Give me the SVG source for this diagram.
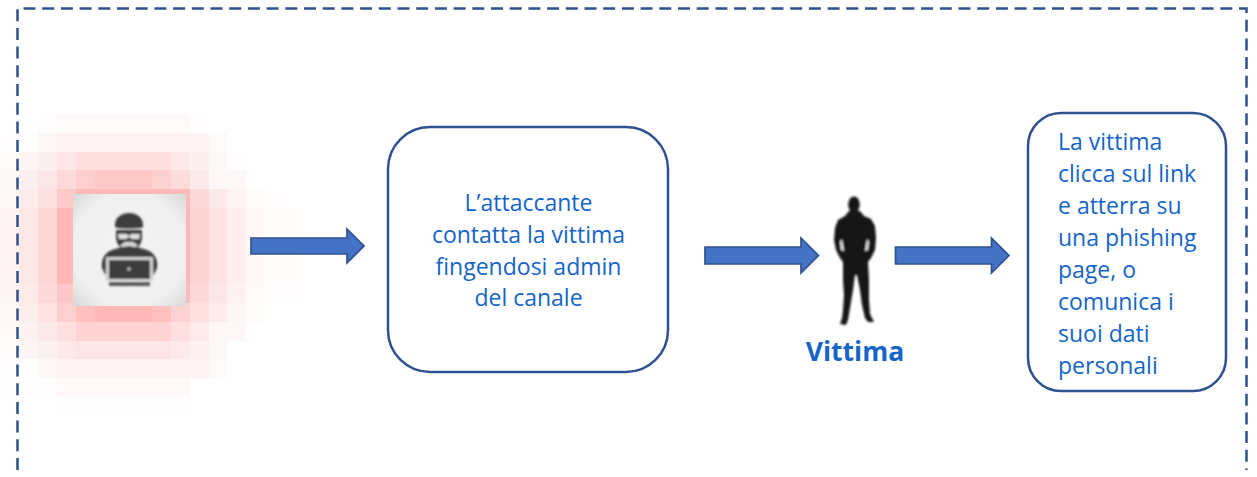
<svg xmlns="http://www.w3.org/2000/svg" width="1257" height="477" viewBox="0 0 1257 477">
<style>
.box{fill:#fff;stroke:#2f528f;stroke-width:2.5}
.arrow{fill:#4472c4;stroke:#2f528f;stroke-width:1.7}
.t{font-family:"Open Sans","Noto Sans",sans-serif;font-size:23px;fill:#1565c9}
.c{text-anchor:middle}
#glow rect{height:19.500px}
</style>
<defs>
<filter id="soft" x="-10%" y="-10%" width="120%" height="120%"><feGaussianBlur stdDeviation="0.8"/></filter>
<filter id="soft2" x="-5%" y="-5%" width="110%" height="110%"><feGaussianBlur stdDeviation="0.6"/></filter>
<radialGradient id="bg" cx="50%" cy="50%" r="72%"><stop offset="0" stop-color="#f3f3f3"/><stop offset="0.7" stop-color="#f0f0f0"/><stop offset="1" stop-color="#d6d6d6"/></radialGradient>
</defs>
<rect width="1257" height="477" fill="#fff"/>
<g id="glow" filter="url(#soft2)">
<g transform="translate(0,114)"><rect x="38" width="19" fill="#fffdfd"/><rect x="57" width="133" fill="#fffafa"/><rect x="190" width="19" fill="#fffdfd"/></g>
<g transform="translate(0,133)"><rect x="0" width="38" fill="#fffdfd"/><rect x="38" width="19" fill="#fdf7f6"/><rect x="57" width="152" fill="#fdf3f2"/><rect x="209" width="18" fill="#fdfbfa"/></g>
<g transform="translate(0,152)"><rect x="0" width="19" fill="#fdfbfa"/><rect x="19" width="19" fill="#fbf6f5"/><rect x="38" width="19" fill="#fbf0ef"/><rect x="57" width="19" fill="#fee6e6"/><rect x="76" width="95" fill="#fddfdf"/><rect x="171" width="19" fill="#fee8e8"/><rect x="190" width="19" fill="#fcf0ef"/><rect x="209" width="18" fill="#fbf8f7"/><rect x="227" width="19" fill="#fffdfd"/></g>
<g transform="translate(0,170)"><rect x="0" width="19" fill="#fef9f9"/><rect x="19" width="19" fill="#fbf0f0"/><rect x="38" width="19" fill="#fae6e6"/><rect x="57" width="19" fill="#fedada"/><rect x="76" width="19" fill="#fdcfcf"/><rect x="95" width="57" fill="#fdc9c9"/><rect x="152" width="19" fill="#fdd0d0"/><rect x="171" width="19" fill="#fddcdc"/><rect x="190" width="19" fill="#fce9e9"/><rect x="209" width="37" fill="#fdf7f7"/></g>
<g transform="translate(0,189)"><rect x="0" width="19" fill="#fff6f6"/><rect x="19" width="19" fill="#fdecec"/><rect x="38" width="19" fill="#fde0e0"/><rect x="57" width="19" fill="#fdcaca"/><rect x="76" width="114" fill="#ffb9b9"/><rect x="190" width="19" fill="#fddada"/><rect x="209" width="18" fill="#fee9e9"/><rect x="227" width="19" fill="#fef3f3"/><rect x="246" width="19" fill="#fffafa"/><rect x="265" width="19" fill="#fffdfd"/></g>
<g transform="translate(0,208) scale(1,4)"><rect x="0" width="19" fill="#fff4f4"/><rect x="19" width="19" fill="#fde8e8"/><rect x="38" width="19" fill="#fdd6d6"/><rect x="57" width="133" fill="#ffb8b8"/><rect x="190" width="19" fill="#fdd4d4"/><rect x="209" width="18" fill="#fde3e3"/><rect x="227" width="19" fill="#feeeee"/><rect x="246" width="19" fill="#fef8f8"/><rect x="265" width="38" fill="#fffcfc"/></g>
<g transform="translate(0,284)"><rect x="0" width="19" fill="#fff5f5"/><rect x="19" width="19" fill="#fdeaea"/><rect x="38" width="19" fill="#fdd9d9"/><rect x="57" width="19" fill="#fec8c8"/><rect x="76" width="114" fill="#ffbcbc"/><rect x="190" width="19" fill="#fdd9d9"/><rect x="209" width="18" fill="#fde6e6"/><rect x="227" width="19" fill="#fef1f1"/><rect x="246" width="19" fill="#fffafa"/><rect x="265" width="38" fill="#fffdfd"/></g>
<g transform="translate(0,303)"><rect x="0" width="19" fill="#fff7f7"/><rect x="19" width="19" fill="#fdeeee"/><rect x="38" width="19" fill="#fde2e2"/><rect x="57" width="19" fill="#fdcfcf"/><rect x="76" width="19" fill="#ffc0c0"/><rect x="95" width="57" fill="#ffb8b8"/><rect x="152" width="19" fill="#ffc0c0"/><rect x="171" width="19" fill="#fdd2d2"/><rect x="190" width="19" fill="#fee0e0"/><rect x="209" width="18" fill="#feecec"/><rect x="227" width="19" fill="#fef6f6"/><rect x="246" width="19" fill="#fffcfc"/></g>
<g transform="translate(0,322)"><rect x="0" width="19" fill="#fff9f9"/><rect x="19" width="19" fill="#fcf2f2"/><rect x="38" width="19" fill="#fbe9e9"/><rect x="57" width="19" fill="#fee0e0"/><rect x="76" width="95" fill="#fdd3d3"/><rect x="171" width="19" fill="#fee0e0"/><rect x="190" width="19" fill="#fdeaea"/><rect x="209" width="37" fill="#fdf7f7"/></g>
<g transform="translate(0,341)"><rect x="0" width="19" fill="#fffbfb"/><rect x="19" width="19" fill="#fbf6f5"/><rect x="38" width="19" fill="#fbf1f0"/><rect x="57" width="19" fill="#fee9e9"/><rect x="76" width="95" fill="#fde5e5"/><rect x="171" width="19" fill="#feeaea"/><rect x="190" width="19" fill="#fcf2f1"/><rect x="209" width="18" fill="#fbf8f7"/></g>
<g transform="translate(0,359)"><rect x="0" width="38" fill="#fffdfd"/><rect x="38" width="19" fill="#fdf8f7"/><rect x="57" width="152" fill="#fdf3f2"/><rect x="209" width="18" fill="#fdfbfa"/></g>
<g transform="translate(0,378)"><rect x="0" width="57" fill="#fffefe"/><rect x="57" width="133" fill="#fff9f9"/></g>
<g transform="translate(0,397)"><rect x="57" width="133" fill="#fffefe"/></g>
</g>
<g id="hacker">
<rect x="73" y="194" width="113" height="112" fill="url(#bg)"/>
<g filter="url(#soft)" fill="#3c3c3c">
<path d="M115 227c-1-9 6-14 14-14s15 5 14 14c-3 2-25 2-28 0z"/>
<path d="M116 230h26v7c0 8-6 14-13 14s-13-6-13-14z"/>
<path d="M102 268c-1-8 2-15 10-18l10-3h15l10 3c8 3 11 10 10 18l-4 8h-47z"/>
<rect x="106" y="257" width="47" height="24" fill="#d0d0d0" rx="1"/>
<rect x="109" y="260" width="41" height="19"/>
<rect x="109" y="282" width="41" height="4" fill="#5a5a5a"/>
<circle cx="129" cy="269" r="1.700" fill="#c8c8c8"/>
<path d="M118 234h9l2 2 2-2h9l-1 5h-7l-3-2-3 2h-7z" fill="#e0e0e0"/>
<path d="M120 246c3-4 6-5 9-4 3-1 6 0 9 4-3 2-6 0-9 0s-6 2-9 0z" fill="#d8d8d8"/>
</g>
</g>
<g id="connectors">
<path class="arrow" d="M251 238h96v-9l17 17-17 17v-9h-96z"/>
<path class="arrow" d="M705 247h96v-9l17.500 17.500-17.500 17.500v-9h-96z"/>
<path class="arrow" d="M895.500 247h96v-9l17.500 17.500-17.500 17.500v-9h-96z"/>
</g>
<g id="frame">
<path d="M17.500 470V8.500H1246.500V470" fill="none" stroke="#2f528f" stroke-width="2.500" stroke-dasharray="12 6.700"/>
</g>
<g id="node-attaccante">
<rect class="box" x="388" y="127" width="280" height="245" rx="42"/>
<text class="t c" x="528.500" y="211">L’attaccante</text>
<text class="t c" x="528.500" y="243">contatta la vittima</text>
<text class="t c" x="528.500" y="275">fingendosi admin</text>
<text class="t c" x="528.500" y="306">del canale</text>
</g>
<g id="node-vittima">
<g filter="url(#soft)" fill="#161616">
<ellipse cx="854" cy="204.500" rx="5.800" ry="8"/>
<path d="M849 211L845 216 838 220 835 228 834 240 836 250 840 258 843 262 843 280 844 295 843 310 842 318 840 324 846 325 848 320 850 308 853 290 855 275 857 275 860 290 862 305 865 318 868 322 874 322 870 314 869 300 869 280 868 262 871 258 875 250 876 238 875 226 871 219 864 216 860 211z"/>
<path d="M842 239l2 12-3-1-1-8zM867 239l-2 12 3-1 1-8z" fill="#e8e8e8"/>
</g>
<text x="855" y="361" text-anchor="middle" font-family="'Open Sans','Noto Sans',sans-serif" font-size="26.500px" font-weight="700" fill="#1565c9">Vittima</text>
</g>
<g id="node-phishing">
<rect class="box" x="1028" y="113" width="198" height="278" rx="33"/>
<text class="t" x="1058" y="150">La vittima</text>
<text class="t" x="1058" y="182">clicca sul link</text>
<text class="t" x="1058" y="214">e atterra su</text>
<text class="t" x="1058" y="246">una phishing</text>
<text class="t" x="1058" y="278">page, o</text>
<text class="t" x="1058" y="310">comunica i</text>
<text class="t" x="1058" y="342">suoi dati</text>
<text class="t" x="1058" y="374">personali</text>
</g>
</svg>
